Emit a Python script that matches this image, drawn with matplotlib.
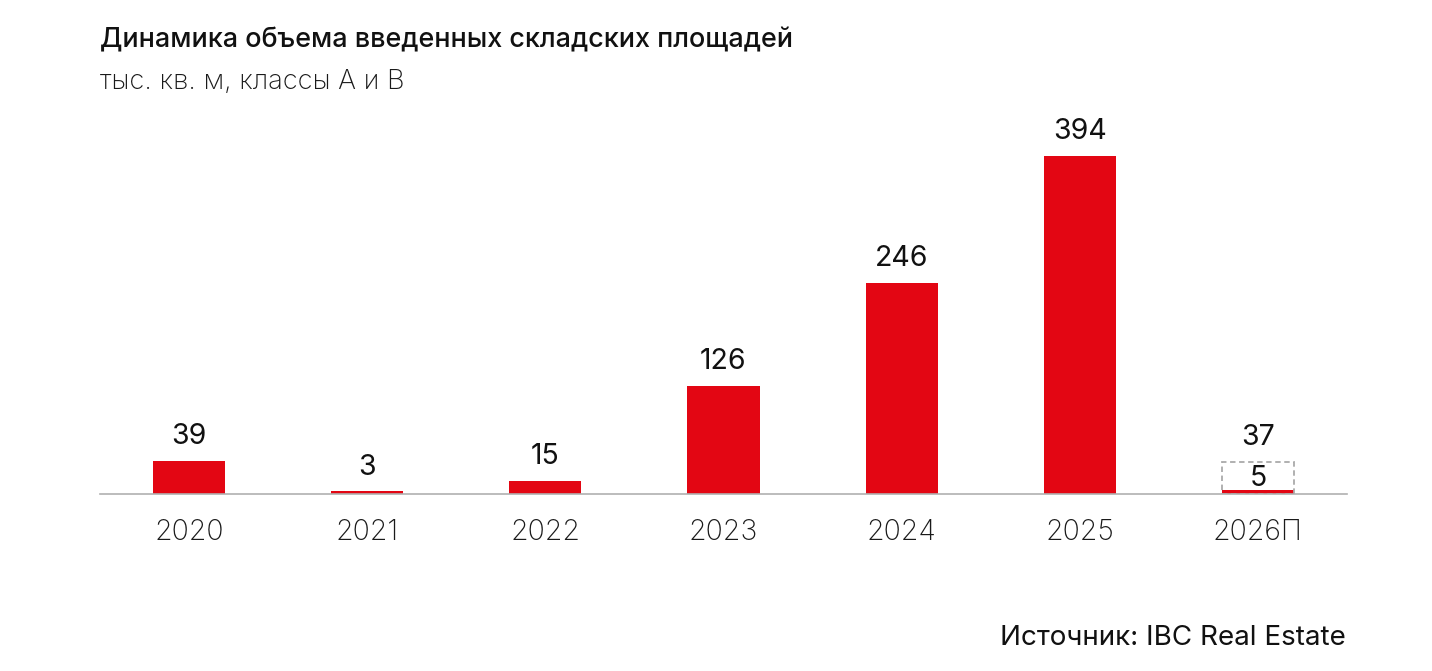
import matplotlib.pyplot as plt

plt.rcParams['font.family'] = ['Inter', 'DejaVu Sans']

years = ['2020', '2021', '2022', '2023', '2024', '2025', '2026П']
volumes = [39, 3, 15, 126, 246, 394, 5]
forecast_total = 37  # dashed outline for 2026
red = '#E30613'

fig = plt.figure(figsize=(14.32, 6.71), dpi=100)
ax = fig.add_axes([100 / 1432, 177 / 671, 1247 / 1432, 338 / 671])

x = list(range(len(years)))
bars = ax.bar(x, volumes, width=0.405, color=red, zorder=2)

# forecast outline
ax.bar(x[-1], forecast_total, width=0.405, facecolor='none', edgecolor='#AAAAAA',
       linestyle=(0, (3, 2)), linewidth=1.3, zorder=3)

# value labels
for i, v in enumerate(volumes[:-1]):
    ax.annotate(str(v), (i, v), xytext=(0, 17.5), textcoords='offset points',
                ha='center', va='center', fontsize=20.5, color='#111111')
ax.annotate(str(forecast_total), (x[-1], forecast_total), xytext=(0, 17.5),
            textcoords='offset points', ha='center', va='center', fontsize=20.5, color='#111111')
ax.text(x[-1], forecast_total / 2, str(volumes[-1]), ha='center', va='center',
        fontsize=20.5, color='#111111', zorder=4)

ax.set_xlim(-0.5, 6.5)
ax.set_ylim(0, 394)
ax.set_xticks(x)
ax.set_xticklabels(years, fontsize=20.5, fontweight='light', color='#1A1A1A')
ax.tick_params(axis='x', length=0, pad=18)
ax.set_yticks([])
for s in ['top', 'right', 'left']:
    ax.spines[s].set_visible(False)
ax.spines['bottom'].set_color('#B0B0B0')
ax.spines['bottom'].set_linewidth(1.2)

fig.text(100 / 1432, 1 - 40 / 671, 'Динамика объема введенных складских площадей',
         fontsize=19.4, fontweight='medium', va='center', ha='left', color='#111111')
fig.text(100 / 1432, 1 - 82 / 671, 'тыс. кв. м, классы A и B',
         fontsize=19.6, fontweight='light', va='center', ha='left', color='#1A1A1A')
fig.text(1346 / 1432, 1 - 638 / 671, 'Источник: IBC Real Estate',
         fontsize=20, va='center', ha='right', color='#111111')

fig.savefig('out.png', dpi=100)
